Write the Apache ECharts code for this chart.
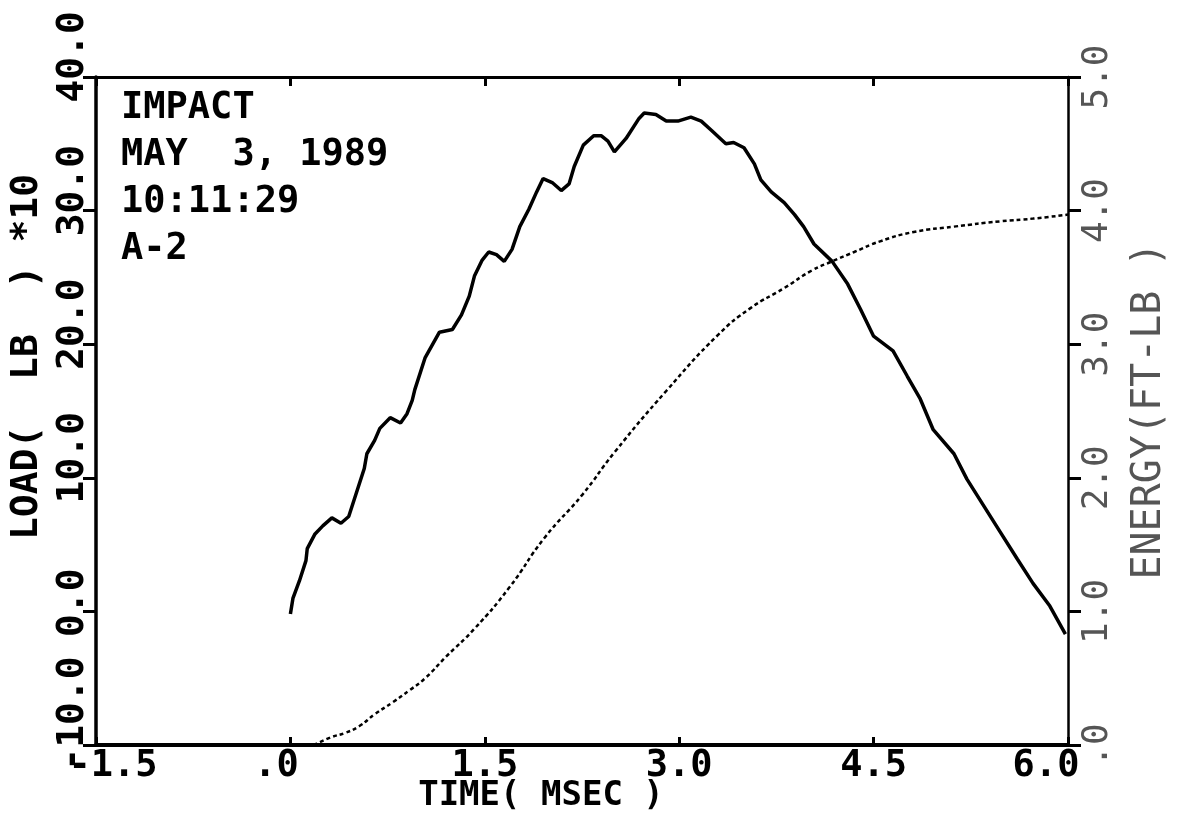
<!DOCTYPE html>
<html><head><meta charset="utf-8">
<script src="https://cdn.jsdelivr.net/npm/echarts@6/dist/echarts.min.js"></script>
<style>html,body{margin:0;padding:0;background:#fff;}#c{width:1180px;height:821px;}</style>
</head><body><div id="c"></div>
<script>
// ---- data ----
const loadTime = [0.00,0.02,0.07,0.12,0.13,0.19,0.25,0.32,0.39,0.45,0.49,0.53,0.57,0.59,0.65,0.69,0.77,0.85,0.90,0.94,0.96,1.04,1.15,1.25,1.32,1.38,1.42,1.48,1.53,1.59,1.65,1.71,1.77,1.84,1.90,1.95,2.02,2.09,2.15,2.19,2.26,2.34,2.40,2.45,2.50,2.59,2.69,2.73,2.82,2.90,2.99,3.09,3.17,3.25,3.36,3.42,3.50,3.58,3.63,3.71,3.81,3.89,3.96,4.04,4.18,4.30,4.40,4.50,4.65,4.76,4.86,4.96,5.12,5.22,5.35,5.48,5.61,5.73,5.86,5.98];
const loadValue = [-0.2,1.0,2.3,3.8,4.7,5.8,6.4,7.0,6.6,7.1,8.3,9.5,10.7,11.8,12.8,13.7,14.5,14.1,14.8,15.8,16.6,19.0,20.9,21.1,22.2,23.6,25.1,26.3,26.9,26.7,26.2,27.1,28.8,30.1,31.4,32.4,32.1,31.5,32.0,33.3,34.9,35.6,35.6,35.2,34.4,35.4,36.9,37.3,37.2,36.7,36.7,37.0,36.7,36.0,35.0,35.1,34.7,33.5,32.3,31.4,30.6,29.7,28.8,27.5,26.2,24.5,22.6,20.6,19.5,17.6,15.9,13.6,11.8,9.9,7.9,5.9,3.9,2.1,0.4,-1.7];
const energyTime = [0.18,0.32,0.42,0.53,0.65,0.79,0.92,1.04,1.20,1.42,1.69,1.96,2.25,2.50,2.90,3.30,3.55,3.81,4.02,4.18,4.35,4.55,4.81,5.12,5.48,5.73,6.00];
const energyValue = [0.00,0.06,0.09,0.14,0.23,0.32,0.41,0.50,0.66,0.87,1.18,1.55,1.87,2.19,2.65,3.07,3.27,3.42,3.55,3.62,3.69,3.77,3.84,3.88,3.92,3.94,3.97];
const infoLines = ["IMPACT", "MAY  3, 1989", "10:11:29", "A-2"];
const xAxisName = "TIME( MSEC )";
const loadAxisName = "LOAD(  LB  ) *10";
const energyAxisName = "ENERGY(FT-LB )";

const FONT = "DejaVu Sans Mono";
const loadData = loadTime.map((t, i) => [t, loadValue[i]]);
const energyData = energyTime.map((t, i) => [t, energyValue[i]]);

function fmtX(v) {
  const s = v === 0 ? ".0" : v.toFixed(1);
  if (v === -1.5) return '{r|' + s + '}';
  if (v === 0) return '{l|' + s + '}';
  if (v === 6) return '{ll|' + s + '}';
  return '{c|' + s + '}';
}
function fmtLoad(v) { return v.toFixed(1).padEnd(5, " "); }
function fmtEnergy(v) { return v === 0 ? ".0" : v.toFixed(1); }

const xLabelBase = {fontFamily: FONT, fontSize: 37, fontWeight: 'bold', color: '#000'};
const chart = echarts.init(document.getElementById('c'), null, {renderer: 'canvas'});
chart.setOption({
  backgroundColor: '#ffffff',
  animation: false,
  title: {
    text: infoLines.join('\n'),
    left: 116, top: 80,
    textStyle: {fontFamily: FONT, fontSize: 37, fontWeight: 'bold', color: '#000', lineHeight: 47}
  },
  grid: {left: 96, right: 112, top: 77, bottom: 76, containLabel: false, outerBoundsMode: 'none'},
  xAxis: [{
    type: 'value', position: 'bottom', min: -1.5, max: 6, interval: 1.5,
    name: xAxisName, nameLocation: 'middle', nameGap: 34, nameMoveOverlap: false,
    nameTextStyle: {fontFamily: FONT, fontSize: 34, fontWeight: 'bold', color: '#000', padding: [0, 82, 0, 0]},
    axisLine: {show: true, onZero: false, lineStyle: {color: '#000', width: 4}},
    axisTick: {show: true, inside: true, length: 8, lineStyle: {color: '#000', width: 3}},
    axisLabel: {formatter: fmtX, margin: 3, showMinLabel: true, showMaxLabel: true,
      rich: {
        c: Object.assign({}, xLabelBase),
        r: Object.assign({padding: [0, 0, 0, 34]}, xLabelBase),
        l: Object.assign({padding: [0, 28, 0, 0]}, xLabelBase),
        ll: Object.assign({padding: [0, 44, 0, 0]}, xLabelBase)
      }},
    splitLine: {show: false}
  }, {
    type: 'value', position: 'top', min: -1.5, max: 6, interval: 1.5,
    axisLine: {show: true, onZero: false, lineStyle: {color: '#000', width: 3}},
    axisTick: {show: true, inside: true, length: 9, lineStyle: {color: '#000', width: 3}},
    axisLabel: {show: false}, splitLine: {show: false}
  }],
  yAxis: [{
    type: 'value', position: 'left', min: -10, max: 40, interval: 10,
    name: loadAxisName, nameLocation: 'middle', nameGap: 50, nameRotate: 90,
    nameTextStyle: {fontFamily: FONT, fontSize: 38, fontWeight: 'bold', color: '#000', padding: [0, 0, 0, 108]},
    axisLine: {show: true, onZero: false, lineStyle: {color: '#000', width: 3.5}},
    axisTick: {show: true, inside: false, length: 13, lineStyle: {color: '#000', width: 3}},
    axisLabel: {formatter: fmtLoad, rotate: 90, fontFamily: FONT, fontSize: 38, fontWeight: 'bold', color: '#000', margin: 4,
      padding: [0, 0, 0, 63], showMinLabel: true, showMaxLabel: true},
    splitLine: {show: false}
  }, {
    type: 'value', position: 'right', min: 0, max: 5, interval: 1,
    name: energyAxisName, nameLocation: 'middle', nameGap: 62, nameRotate: 90,
    nameTextStyle: {fontFamily: FONT, fontSize: 40, color: '#555'},
    axisLine: {show: true, onZero: false, lineStyle: {color: '#000', width: 2.5}},
    axisTick: {show: true, inside: false, length: 13, lineStyle: {color: '#000', width: 3}},
    axisLabel: {formatter: fmtEnergy, rotate: 90, fontFamily: FONT, fontSize: 36, color: '#555', margin: 12,
      showMinLabel: true, showMaxLabel: true},
    splitLine: {show: false}
  }],
  series: [{
    type: 'line', name: 'LOAD', xAxisIndex: 0, yAxisIndex: 0, data: loadData,
    showSymbol: false, smooth: false,
    lineStyle: {color: '#000', width: 3.5}
  }, {
    type: 'line', name: 'ENERGY', xAxisIndex: 0, yAxisIndex: 1, data: energyData,
    showSymbol: false, smooth: true,
    lineStyle: {color: '#000', width: 2.5, type: [4, 3]}
  }]
});
</script>
</body></html>
